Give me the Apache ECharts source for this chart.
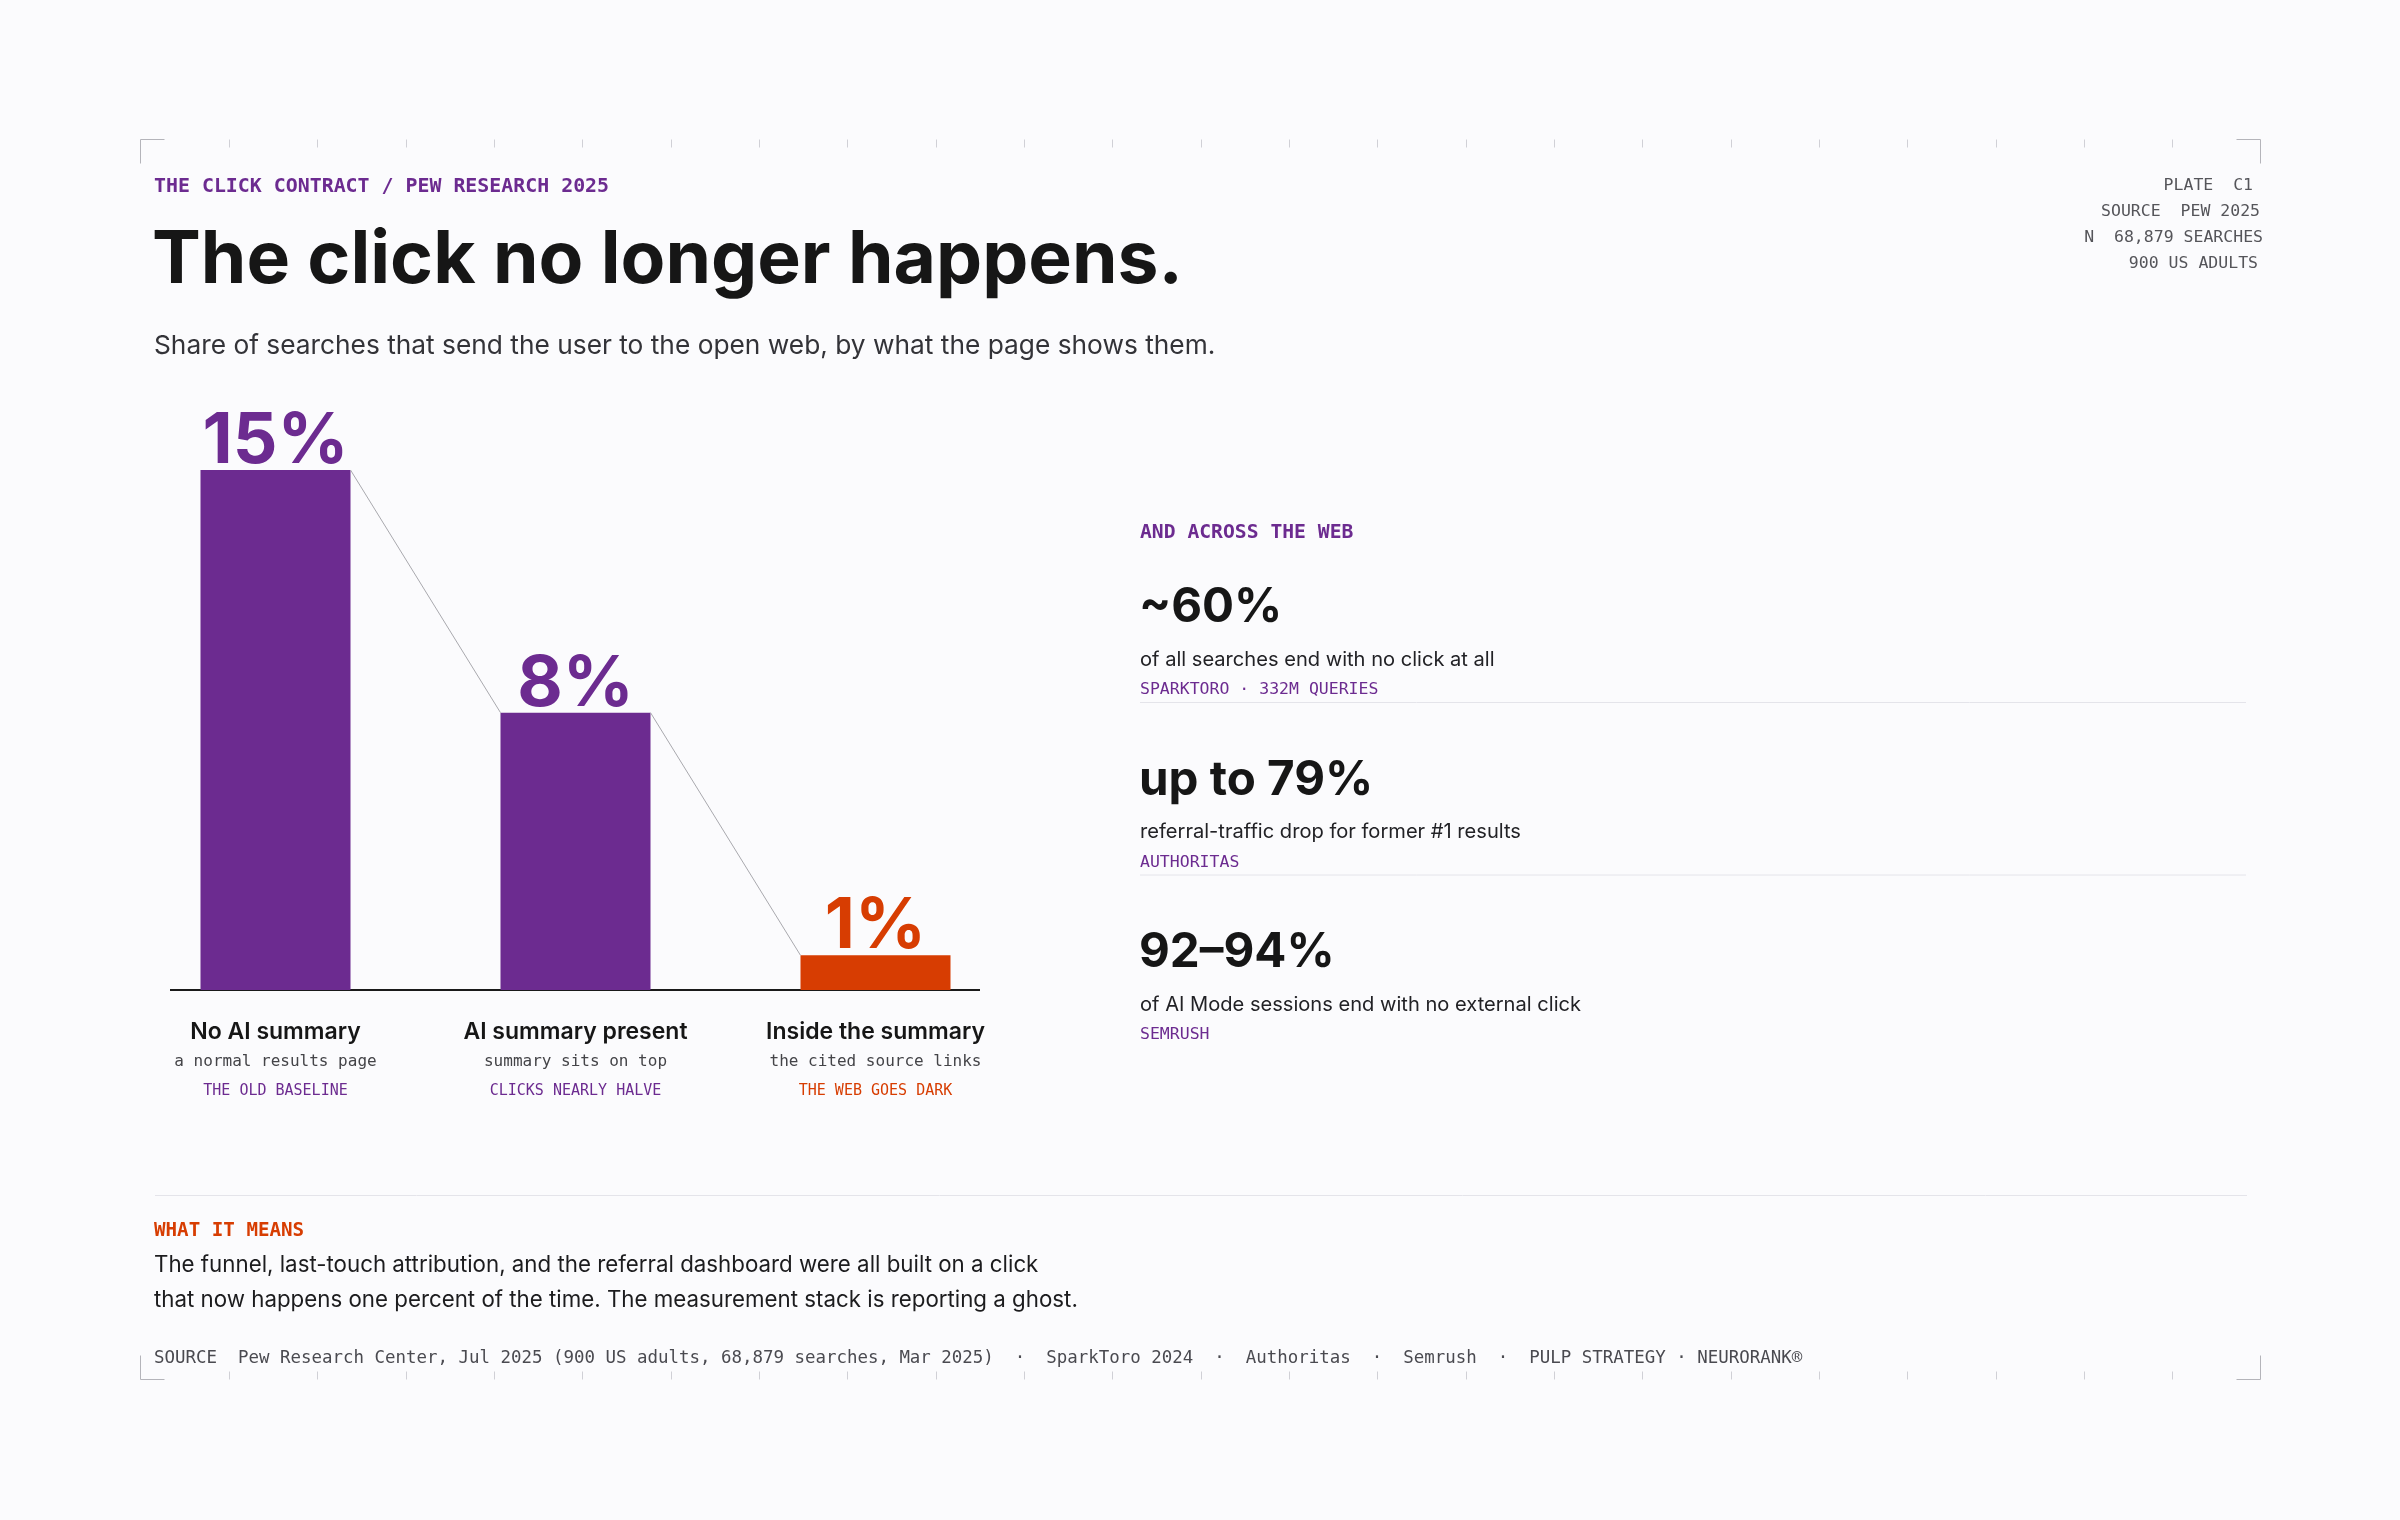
<!DOCTYPE html>
<html><head><meta charset="utf-8">
<script src="https://cdn.jsdelivr.net/npm/echarts@6/dist/echarts.min.js"></script>
<style>html,body{margin:0;padding:0;background:#fbfbfd}#c{width:2400px;height:1520px}</style>
</head><body><div id="c"></div>
<script>
// ---------- data ----------
const categories = ['No AI summary', 'AI summary present', 'Inside the summary'];
const categoryNotes = ['a normal results page', 'summary sits on top', 'the cited source links'];
const categoryTags = ['THE OLD BASELINE', 'CLICKS NEARLY HALVE', 'THE WEB GOES DARK'];
const clickShare = [15, 8, 1];
const statValues = ['~60%', 'up to 79%', '92\u201394%'];
const statDescs = ['of all searches end with no click at all', 'referral-traffic drop for former #1 results', 'of AI Mode sessions end with no external click'];
const statSources = ['SPARKTORO \u00b7 332M QUERIES', 'AUTHORITAS', 'SEMRUSH'];
const metaLines = ['PLATE  C1', 'SOURCE  PEW 2025', 'N  68,879 SEARCHES', '900 US ADULTS'];
const kicker = 'THE CLICK CONTRACT / PEW RESEARCH 2025';
const title = 'The click no longer happens.';
const subtitle = 'Share of searches that send the user to the open web, by what the page shows them.';
const panelLabel = 'AND ACROSS THE WEB';
const takeawayLabel = 'WHAT IT MEANS';
const takeaway = ['The funnel, last-touch attribution, and the referral dashboard were all built on a click',
                  'that now happens one percent of the time. The measurement stack is reporting a ghost.'];
const footer = 'SOURCE  Pew Research Center, Jul 2025 (900 US adults, 68,879 searches, Mar 2025)  \u00b7  SparkToro 2024  \u00b7  Authoritas  \u00b7  Semrush  \u00b7  PULP STRATEGY \u00b7 NEURORANK\u00ae';

// ---------- style ----------
const PURPLE = '#6c2b90', ORANGE = '#d73d02', INK = '#161616';
const SANS = 'Inter, "Noto Sans", sans-serif';
const MONO = '"DejaVu Sans Mono", monospace';

function txt(s, x, cy, size, weight, family, color, align) {
  return { type: 'text', x: x, y: cy + 0.065 * size, silent: true,
    style: { text: s, fontSize: size, fontWeight: weight, fontFamily: family, fill: color,
             align: align || 'left', verticalAlign: 'middle' } };
}
function line(x1, y1, x2, y2, color, w) {
  return { type: 'line', silent: true, shape: { x1: x1, y1: y1, x2: x2, y2: y2 },
           style: { stroke: color, lineWidth: w || 1 } };
}

const g = [];
// frame
const L = 140.5, R = 2260.5, T = 139.5, B = 1379.5;
const cornerStyle = { stroke: '#b4b4ba', lineWidth: 1, fill: null };
g.push({ type: 'polyline', silent: true, shape: { points: [[L, T + 24], [L, T], [L + 24, T]] }, style: cornerStyle });
g.push({ type: 'polyline', silent: true, shape: { points: [[R - 24, T], [R, T], [R, T + 24]] }, style: cornerStyle });
g.push({ type: 'polyline', silent: true, shape: { points: [[L, B - 24], [L, B], [L + 24, B]] }, style: cornerStyle });
g.push({ type: 'polyline', silent: true, shape: { points: [[R - 24, B], [R, B], [R, B - 24]] }, style: cornerStyle });
for (let k = 1; k < 24; k++) {
  const x = Math.round(L + k * (R - L) / 24) + 0.5;
  g.push(line(x, T, x, T + 8, '#d0d0d6'));
  g.push(line(x, B - 8, x, B, '#d0d0d6'));
}
// header
g.push(txt(kicker, 154, 185.5, 19.9, 'bold', MONO, PURPLE));
g.push(txt(title, 152, 256, 73.2, 700, SANS, INK));
g.push(txt(subtitle, 154, 344, 26.3, 400, SANS, '#333338'));
const metaRight = [2253, 2260, 2263, 2258];
const metaY = [184.5, 210.5, 237, 263];
metaLines.forEach((s, i) => g.push(txt(s, metaRight[i], metaY[i], 16.5, 400, MONO, '#55555a', 'right')));

// baseline under bars
g.push(line(170, 990, 980, 990, '#1a1a1a', 2));

// right panel
g.push(txt(panelLabel, 1140, 532, 19.7, 'bold', MONO, PURPLE));
statValues.forEach((v, i) => {
  const o = 172.5 * i;
  g.push(txt(v, 1139, 605 + o, 47.5, 700, SANS, INK));
  g.push(txt(statDescs[i], 1140, 658.5 + o, 20.1, 400, SANS, '#222226'));
  g.push(txt(statSources[i], 1140, 689 + o, 16.5, 400, MONO, PURPLE));
  if (i < statValues.length - 1) g.push(line(1140, 702.5 + o, 2246, 702.5 + o, '#e4e4ea'));
});

// takeaway
g.push(line(155, 1195.5, 2247, 1195.5, '#e4e4ea'));
g.push(txt(takeawayLabel, 154, 1229.5, 19.2, 'bold', MONO, ORANGE));
takeaway.forEach((s, i) => g.push(txt(s, 154, 1263.5 + 35 * i, 22.3, 400, SANS, '#1c1c1e')));
g.push(txt(footer, 154, 1357.5, 17.45, 400, MONO, '#4a4a50'));

const last = clickShare.length - 1;
const option = {
  backgroundColor: '#fbfbfd',
  animation: false,
  grid: { left: 125.5, width: 900, top: 470, height: 520 },
  xAxis: {
    type: 'category', data: categories,
    axisLine: { show: false }, axisTick: { show: false }, splitLine: { show: false },
    axisLabel: {
      margin: 27, interval: 0,
      formatter: (v, i) => '{a|' + v + '}\n{b|' + categoryNotes[i] + '}\n{' + (i === last ? 'd' : 'c') + '|' + categoryTags[i] + '}',
      rich: {
        a: { fontFamily: SANS, fontSize: 23, fontWeight: 600, color: INK, lineHeight: 30 },
        b: { fontFamily: MONO, fontSize: 16, color: '#444448', lineHeight: 29 },
        c: { fontFamily: MONO, fontSize: 15, color: PURPLE, lineHeight: 30 },
        d: { fontFamily: MONO, fontSize: 15, color: ORANGE, lineHeight: 30 }
      }
    }
  },
  yAxis: { type: 'value', min: 0, max: 15, show: false },
  series: [
    {
      type: 'bar', barWidth: 150,
      data: clickShare.map((v, i) => ({
        value: v,
        itemStyle: { color: i === last ? ORANGE : PURPLE },
        label: { color: i === last ? ORANGE : PURPLE }
      })),
      label: {
        show: true, position: 'top', distance: -7, formatter: '{c}%',
        fontFamily: SANS, fontSize: 70, fontWeight: 700, lineHeight: 70
      }
    },
    {
      type: 'custom', data: clickShare, silent: true, z: 3,
      renderItem: (params, api) => {
        const i = params.dataIndex;
        if (i >= clickShare.length - 1) return null;
        const half = api.size([1, 0])[0] / 4;
        const p1 = api.coord([i, clickShare[i]]);
        const p2 = api.coord([i + 1, clickShare[i + 1]]);
        return { type: 'line', shape: { x1: p1[0] + half, y1: p1[1], x2: p2[0] - half, y2: p2[1] },
                 style: { stroke: '#a9a9ae', lineWidth: 1 } };
      }
    }
  ],
  graphic: g
};
const chart = echarts.init(document.getElementById('c'), null, { renderer: 'canvas' });
chart.setOption(option);
</script></body></html>
